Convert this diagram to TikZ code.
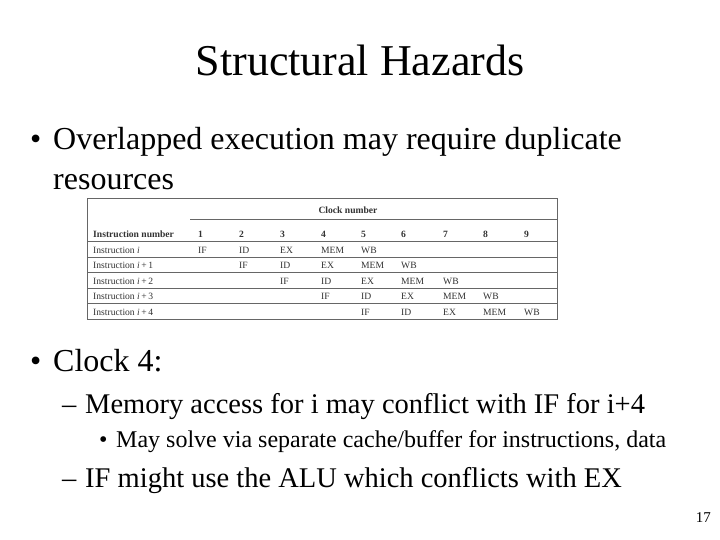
\documentclass[tikz,border=0pt]{standalone}
\usepackage{fontspec}
\setmainfont{Liberation Serif}
\begin{document}
\begin{tikzpicture}[x=1pt,y=-1pt,
  body/.style={anchor=base west,inner sep=0pt,font=\fontsize{32}{36}\selectfont},
  sub/.style={anchor=base west,inner sep=0pt,font=\fontsize{28.5}{32}\selectfont},
  subsub/.style={anchor=base west,inner sep=0pt,font=\fontsize{24}{28}\selectfont},
  cell/.style={anchor=base west,inner sep=0pt,font=\fontsize{9.6}{11}\selectfont,text=black!80},
  hcell/.style={cell,font=\fontsize{9.6}{11}\selectfont\bfseries},
  tline/.style={draw=black!60,line width=0.6pt}]
\useasboundingbox (0,0) rectangle (720,540);
\node[inner sep=0pt,font=\fontsize{44}{48}\selectfont] (title) at (360,60) {Structural Hazards};
\node[body] (d1) at (30,150) {\textbullet};
\node[body] (b1) at (53,150) {Overlapped execution may require duplicate};
\node[body] (b1b) at (53,190) {resources};
% table
\draw[tline] (87,198) rectangle (557,319);
\draw[tline] (190,219) -- (557,219);
\foreach \y in {241,257,272,288,303} \draw[tline] (87,\y) -- (557,\y);
\node[hcell,anchor=base] (clk) at (348,214) {Clock number};
\node[hcell] (hin) at (93,237) {Instruction number};
\foreach \c/\x in {1/198,2/239,3/280,4/321,5/361,6/401,7/443,8/483,9/524}
  \node[hcell] (h\c) at (\x,237) {\c};
\foreach \r/\y/\n in {0/253/,1/268/\,+\,1,2/284/\,+\,2,3/299/\,+\,3,4/315/\,+\,4}
  \node[cell] (r\r) at (93,\y) {Instruction \textit{i}\n};
\foreach \r/\y in {0/253,1/268,2/284,3/299,4/315}{
  \foreach \st/\k in {IF/0,ID/1,EX/2,MEM/3,WB/4}{
    \pgfmathsetmacro{\xx}{{198,239,280,321,361,401,443,483,524}[\r+\k]}
    \node[cell] at (\xx,\y) {\st};
  }
}
\node[body] (d2) at (30,371) {\textbullet};
\node[body] (b2) at (53,371) {Clock 4:};
\node[sub] (e1) at (62,413) {--};
\node[sub] (s1) at (85,413) {Memory access for i may conflict with IF for i+4};
\node[subsub] (f1) at (99,447) {\textbullet};
\node[subsub] (ss1) at (116,447) {May solve via separate cache/buffer for instructions, data};
\node[sub] (e2) at (62,487) {--};
\node[sub] (s2) at (85,487) {IF might use the ALU which conflicts with EX};
\node[inner sep=0pt,anchor=base east,font=\fontsize{15}{17}\selectfont] (pg) at (711,522) {17};
\end{tikzpicture}
\end{document}
